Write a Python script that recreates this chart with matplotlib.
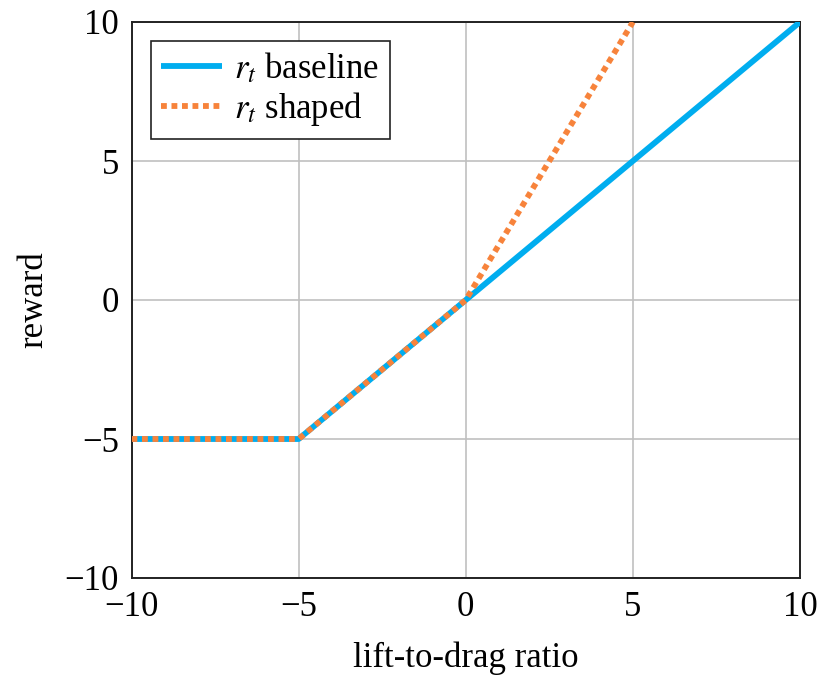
import matplotlib
matplotlib.use("Agg")
import matplotlib.pyplot as plt

baseline_x = [-10, -5, 0, 10]
baseline_y = [-5, -5, 0, 10]
shaped_x = [-10, -5, 0, 5]
shaped_y = [-5, -5, 0, 10]
ticks = [-10, -5, 0, 5, 10]

plt.rcParams['font.family'] = ['Liberation Serif', 'DejaVu Serif']
plt.rcParams['mathtext.fontset'] = 'stix'
FS = 25
plt.rcParams['font.size'] = FS

fig = plt.figure(figsize=(8.3, 6.84), dpi=100)
ax = fig.add_axes([131.5/830, 1 - 578/684, (800-131.5)/830, (578-22)/684])

ax.plot(baseline_x, baseline_y, color='#00ADEF', lw=4.2, solid_capstyle='butt', label=r'$r_t$ baseline', zorder=3)
ax.plot(shaped_x, shaped_y, color='#F7833B', lw=4.2, linestyle=(0, (1.0, 0.8)), dash_capstyle='butt', label=r'$r_t$ shaped', zorder=4)

ax.set_xlim(-10, 10)
ax.set_ylim(-10, 10)
ax.set_xticks(ticks)
ax.set_yticks(ticks)
ax.grid(True, color='#c0c0c0', lw=1.2)
ax.set_axisbelow(True)
ax.tick_params(direction='in', length=0, pad=9, labelsize=FS)
for s in ax.spines.values():
    s.set_linewidth(1.4)
    s.set_color('#222222')

ax.set_xlabel('lift-to-drag ratio', fontsize=FS, labelpad=13)
ax.set_ylabel('reward', fontsize=FS, labelpad=10)

leg = ax.legend(loc='upper left', fontsize=FS, frameon=True, fancybox=False,
                edgecolor='#222222', framealpha=1, borderaxespad=0.55,
                handlelength=1.75, handletextpad=0.35, borderpad=0.3, labelspacing=0.12)
leg.get_frame().set_linewidth(1.2)

fig.savefig('out.png', dpi=100)
